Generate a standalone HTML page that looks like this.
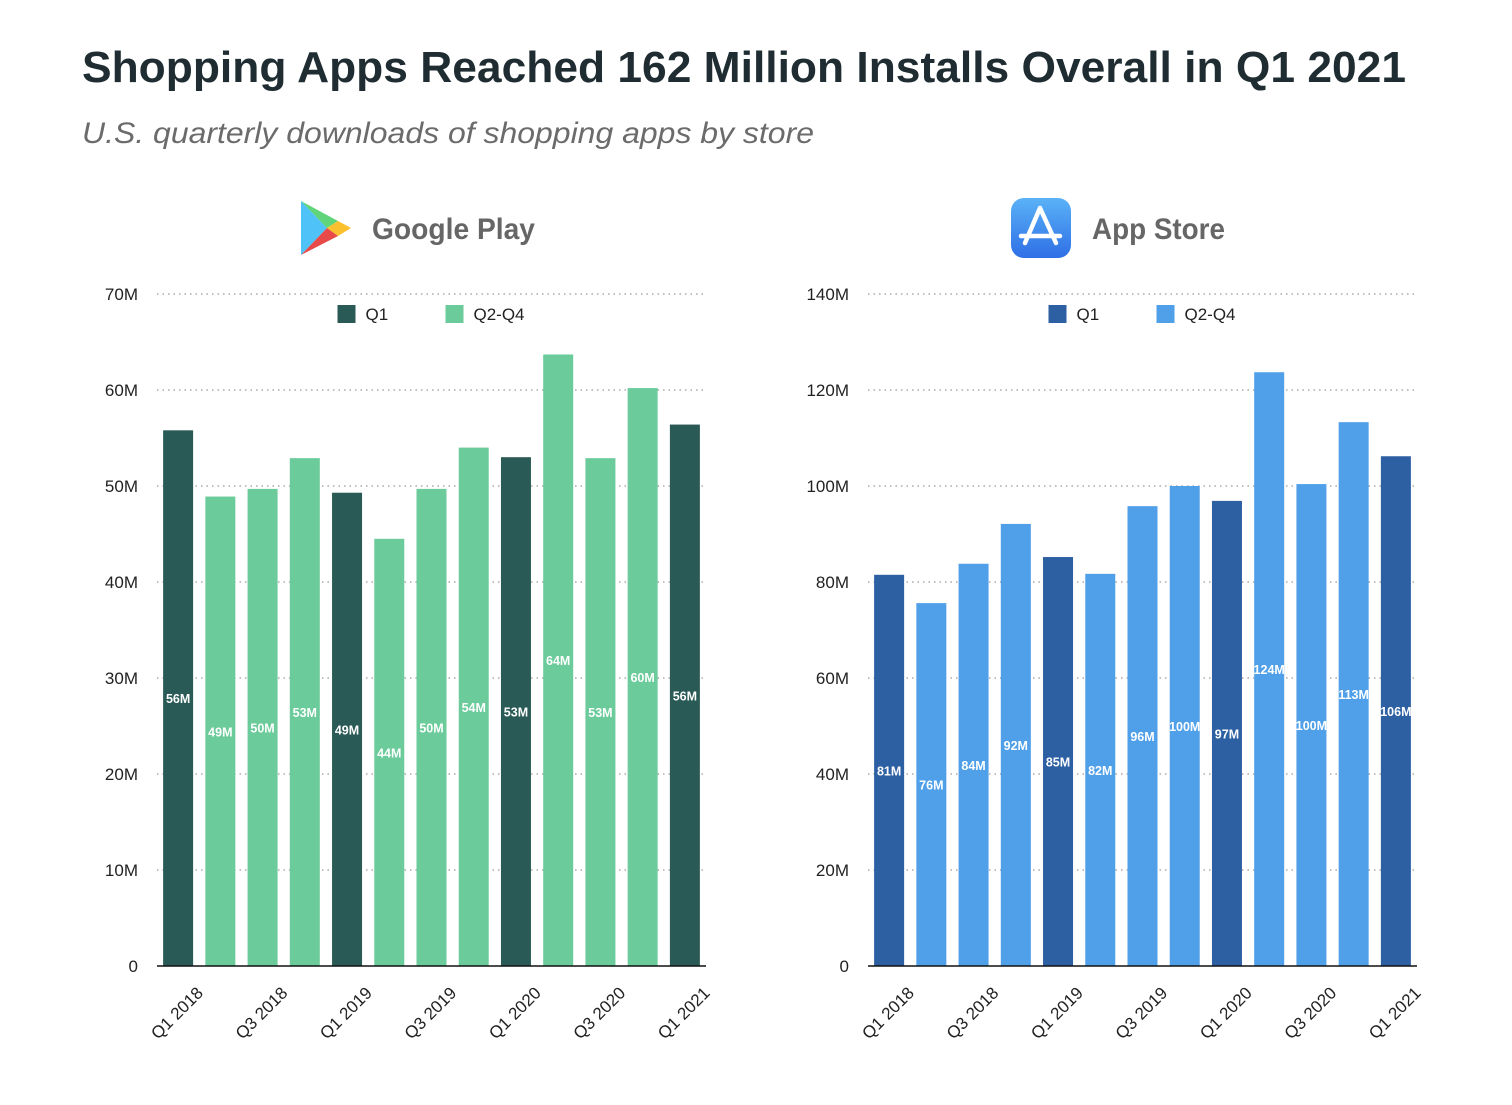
<!DOCTYPE html>
<html><head><meta charset="utf-8"><style>
body{margin:0;background:#fff;width:1512px;height:1105px;overflow:hidden}
svg{display:block;font-family:"Liberation Sans",sans-serif}
</style></head><body>
<svg id="s" width="1512" height="1105">
<text x="82" y="82" font-size="44" font-weight="bold" fill="#1f2d33" textLength="1324" lengthAdjust="spacingAndGlyphs">Shopping Apps Reached 162 Million Installs Overall in Q1 2021</text>
<text x="82" y="143" font-size="30" font-style="italic" fill="#6b6b6b" textLength="732" lengthAdjust="spacingAndGlyphs">U.S. quarterly downloads of shopping apps by store</text>
<g>
<polygon points="301,201 327,228 301,255" fill="#4fc3f7"/>
<polygon points="301,201 338,221 327,228" fill="#5fd47a"/>
<polygon points="338,221 351,228 338,236 327,228" fill="#fbc02d"/>
<polygon points="327,228 338,236 301,255" fill="#e84a4a"/>
</g>
<text x="372" y="239" font-size="30" font-weight="bold" fill="#666" textLength="163" lengthAdjust="spacingAndGlyphs">Google Play</text>
<g>
<defs><linearGradient id="ag" x1="0" y1="0" x2="0" y2="1"><stop offset="0" stop-color="#5ab2f7"/><stop offset="1" stop-color="#2f6fe6"/></linearGradient></defs>
<rect x="1011" y="198" width="60" height="60" rx="13" fill="url(#ag)"/>
<path d="M1040,208 L1025,243 M1040,208 L1056,243 M1021,236 L1060,236" stroke="#fff" stroke-width="4.5" stroke-linecap="round" fill="none"/>
</g>
<text x="1092" y="239" font-size="30" font-weight="bold" fill="#666" textLength="133" lengthAdjust="spacingAndGlyphs">App Store</text>
</svg>
<script>
const categories=["Q1 2018","Q2 2018","Q3 2018","Q4 2018","Q1 2019","Q2 2019","Q3 2019","Q4 2019","Q1 2020","Q2 2020","Q3 2020","Q4 2020","Q1 2021"];
const googleValues=[55.8,48.9,49.7,52.9,49.3,44.5,49.7,54,53,63.7,52.9,60.2,56.4];
const googleLabels=["56M","49M","50M","53M","49M","44M","50M","54M","53M","64M","53M","60M","56M"];
const appleValues=[81.5,75.6,83.8,92.1,85.2,81.7,95.8,100,96.9,123.7,100.4,113.3,106.2];
const appleLabels=["81M","76M","84M","92M","85M","82M","96M","100M","97M","124M","100M","113M","106M"];
const googleTicks=[0,10,20,30,40,50,60,70];
const appleTicks=[0,20,40,60,80,100,120,140];
const NS="http://www.w3.org/2000/svg";
const svg=document.getElementById('s');
function mk(t,a,p){const e=document.createElementNS(NS,t);for(const k in a)e.setAttribute(k,a[k]);(p||svg).appendChild(e);return e;}
function chart(id,x0,x1,vals,labs,ticks,max,cDark,cLight){
  const g=mk('g',{});
  
  
  const yb=966,yt=294;
  const y=v=>yb-(v/max)*(yb-yt);
  const step=(x1-x0)/categories.length;
  const xc=i=>x0+step*(i+0.5);
  ticks.forEach(t=>{
    if(t>0){const l=mk('line',{x1:x0,x2:x1,y1:y(t),y2:y(t),stroke:'#aaa','stroke-width':1.5,'stroke-dasharray':'1.5 4'},g);
    
    }
    const tx=mk('text',{x:x0-19,y:y(t)+6,'text-anchor':'end','font-size':17,fill:'#222'},g);
    tx.textContent=t===0?'0':t+'M';
    
    
  });
  vals.forEach((v,i)=>{
    const q1=i%4===0;
    const r=mk('rect',{x:xc(i)-15,y:y(v),width:30,height:yb-y(v),fill:q1?cDark:cLight},g);
    
    
    const t=mk('text',{x:xc(i),y:(y(v)+yb)/2+5,'text-anchor':'middle','font-size':12.5,'font-weight':'bold',fill:'#fff'},g);
    t.textContent=labs[i];
    
    
    if(i%2===0){
      const cx=xc(i)+26,cy=yb+28;
      const lt=mk('text',{x:cx,y:cy,'text-anchor':'end','font-size':17,fill:'#222',transform:'rotate(-45 '+cx+' '+cy+')'},g);
      lt.textContent=categories[i];
      
      
    }
  });
  const ax=mk('line',{x1:x0,x2:x1,y1:yb,y2:yb,stroke:'#111','stroke-width':1.5},g);
  
  
  const lx=(x0+x1)/2-94;
  [[cDark,'Q1',0],[cLight,'Q2-Q4',108]].forEach(([c,n,o])=>{
    const lg=mk('g',{},g);
    
    
    mk('rect',{x:lx+o,y:305,width:18,height:18,fill:c},lg);
    const t=mk('text',{x:lx+o+28,y:320,'font-size':17,fill:'#222'},lg);t.textContent=n;
  });
}
chart('google-play',157,706,googleValues,googleLabels,googleTicks,70,'#2a5a55','#6bcb9a');
chart('app-store',868,1417,appleValues,appleLabels,appleTicks,140,'#2d5fa3','#4f9fe9');
</script>
</body></html>
